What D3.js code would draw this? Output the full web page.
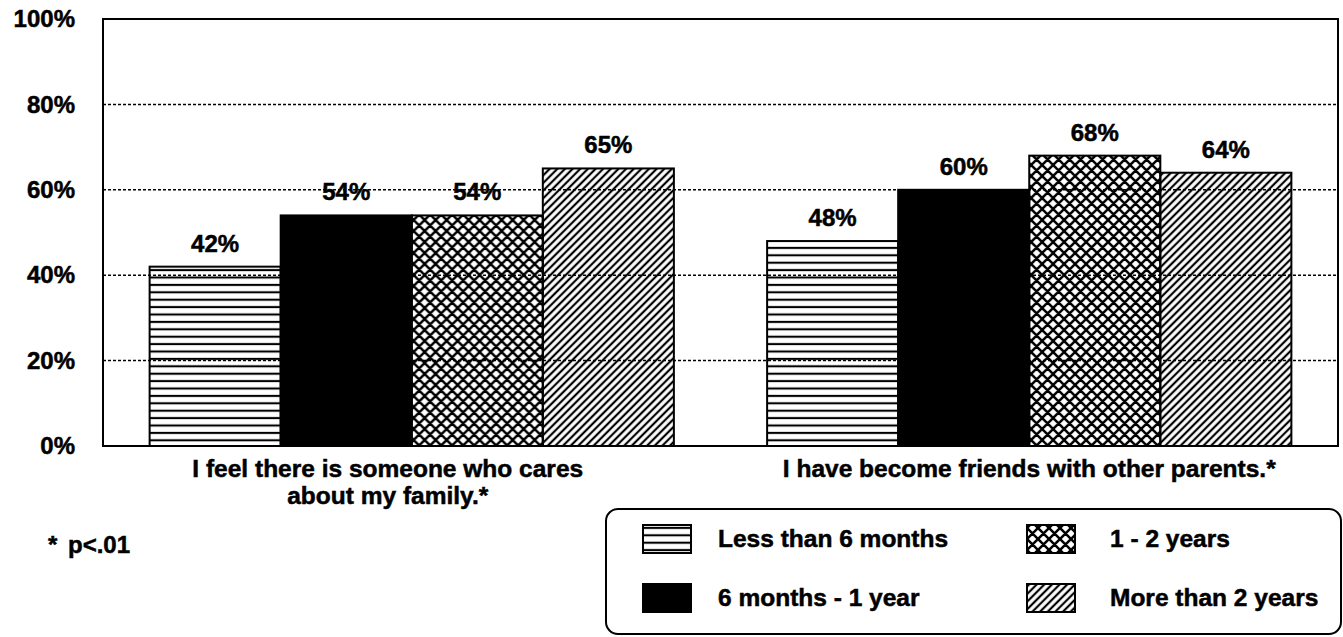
<!DOCTYPE html>
<html>
<head>
<meta charset="utf-8">
<script src="https://cdn.jsdelivr.net/npm/d3@7"></script>
<style>
  body { margin: 0; background: #fff; }
  svg { display: block; font-family: "Liberation Sans", Arial, sans-serif; font-weight: bold; }
  svg text { stroke: #000; stroke-width: 0.5px; }
</style>
</head>
<body>
<div id="chart"></div>
<script>
// Data
const categories = ["care", "friends"]
const categoryLines = [
    ["I feel there is someone who cares", "about my family.*"],
    ["I have become friends with other parents.*"]
]
const seriesNames = ["Less than 6 months", "6 months - 1 year", "1 - 2 years", "More than 2 years"]
const lessThan6Months = [42, 48]
const sixMonthsTo1Year = [54, 60]
const oneTo2Years = [54, 68]
const moreThan2Years = [65, 64]
const yTicks = [0, 20, 40, 60, 80, 100]
const footnote = "p<.01"

const seriesValues = [lessThan6Months, sixMonthsTo1Year, oneTo2Years, moreThan2Years]
const fills = ["url(#horiz)", "#000", "url(#cross)", "url(#diag)"]

const width = 1343, height = 637
const plotLeft = 103, plotRight = 1338, plotTop = 19, plotBottom = 446

const svg = d3.select('#chart').append('svg')
    .attr('width', width)
    .attr('height', height)

// Patterns
const defs = svg.append('defs')

defs.append('pattern')
    .attr('id', 'horiz')
    .attr('patternUnits', 'userSpaceOnUse')
    .attr('width', 8).attr('height', 7.4)
    .append('line')
    .attr('x1', 0).attr('x2', 8).attr('y1', 3.7).attr('y2', 3.7)
    .attr('stroke', '#000').attr('stroke-width', 2.1)

let cross = defs.append('pattern')
    .attr('id', 'cross')
    .attr('patternUnits', 'userSpaceOnUse')
    .attr('width', 11).attr('height', 11)
cross.append('path')
    .attr('d', 'M0,0L11,11M11,0L0,11M-1,1L1,-1M10,12L12,10M-1,10L1,12M10,-1L12,1')
    .attr('stroke', '#000').attr('stroke-width', 2.5)

defs.append('pattern')
    .attr('id', 'diag')
    .attr('patternUnits', 'userSpaceOnUse')
    .attr('width', 5.4).attr('height', 10)
    .attr('patternTransform', 'rotate(45)')
    .append('line')
    .attr('x1', 2.7).attr('x2', 2.7).attr('y1', 0).attr('y2', 10)
    .attr('stroke', '#000').attr('stroke-width', 2.2)

// Scales
const x0 = d3.scaleBand()
    .domain(categories)
    .range([plotLeft, plotRight])
    .paddingInner(0.151)
    .paddingOuter(0.0755)

const x1 = d3.scaleBand()
    .domain(d3.range(seriesNames.length))
    .range([0, x0.bandwidth()])

const y = d3.scaleLinear()
    .domain([0, 100])
    .range([plotBottom, plotTop])

// Gridlines (dotted)
svg.append('g')
    .selectAll('line')
    .data(yTicks.filter(d => d > 0 && d < 100))
    .join('line')
    .attr('x1', plotLeft).attr('x2', plotRight)
    .attr('y1', d => y(d)).attr('y2', d => y(d))
    .attr('stroke', '#000')
    .attr('stroke-width', 1.5)
    .attr('stroke-dasharray', '3,2')

// Y axis labels
const yAxis = d3.axisLeft(y)
    .tickValues(yTicks)
    .tickFormat(d => d + '%')
    .tickSize(0)
    .tickPadding(28)

svg.append('g')
    .attr('transform', `translate(${plotLeft},0)`)
    .call(yAxis)
    .call(g => g.select('.domain').remove())
    .selectAll('text')
    .attr('font-size', 24)
    .attr('font-family', '"Liberation Sans", Arial, sans-serif')
    .attr('font-weight', 'bold')
    .attr('fill', '#000')

// Bars
const rows = categories.map((c, i) => seriesValues.map((s, j) => ({cat: c, idx: j, value: s[i]})))

const groups = svg.append('g')
    .selectAll('g')
    .data(rows)
    .join('g')
    .attr('transform', (d, i) => `translate(${x0(categories[i])},0)`)

groups.selectAll('rect')
    .data(d => d)
    .join('rect')
    .attr('x', d => x1(d.idx))
    .attr('y', d => y(d.value))
    .attr('width', x1.bandwidth())
    .attr('height', d => y(0) - y(d.value))
    .attr('fill', d => fills[d.idx])
    .attr('stroke', '#000')
    .attr('stroke-width', 2)

groups.selectAll('text')
    .data(d => d)
    .join('text')
    .attr('x', d => x1(d.idx) + x1.bandwidth() / 2)
    .attr('y', d => y(d.value) - 15)
    .attr('text-anchor', 'middle')
    .attr('font-size', 24)
    .text(d => d.value + '%')

// Plot frame
svg.append('rect')
    .attr('x', plotLeft).attr('y', plotTop)
    .attr('width', plotRight - plotLeft).attr('height', plotBottom - plotTop)
    .attr('fill', 'none')
    .attr('stroke', '#000')
    .attr('stroke-width', 2)

// Category labels (the first one sits a little left of its group)
const labelShift = [-24, 0]
svg.append('g')
    .selectAll('text')
    .data(categories)
    .join('text')
    .attr('x', (d, i) => x0(d) + x0.bandwidth() / 2 + labelShift[i])
    .attr('y', 477)
    .attr('text-anchor', 'middle')
    .attr('font-size', 24.5)
    .selectAll('tspan')
    .data((d, i) => categoryLines[i])
    .join('tspan')
    .attr('x', function() { return d3.select(this.parentNode).attr('x') })
    .attr('dy', (d, i) => i === 0 ? 0 : 27)
    .text(d => d)

// Footnote
svg.append('text')
    .attr('x', 48).attr('y', 553)
    .attr('font-size', 24)
    .text('*')
svg.append('text')
    .attr('x', 68).attr('y', 553)
    .attr('font-size', 24)
    .text(footnote)

// Legend
const legend = svg.append('g')

legend.append('rect')
    .attr('x', 606).attr('y', 509)
    .attr('width', 735).attr('height', 125)
    .attr('rx', 12)
    .attr('fill', 'none')
    .attr('stroke', '#000')
    .attr('stroke-width', 2)

const legendX = d3.scaleOrdinal().domain([0, 1]).range([643, 1027])
const legendY = d3.scaleOrdinal().domain([0, 1]).range([539, 598])

const items = legend.selectAll('g.item')
    .data(seriesNames.map((name, i) => ({name, i, col: Math.floor(i / 2), row: i % 2})))
    .join('g')
    .attr('class', 'item')
    .attr('transform', d => `translate(${legendX(d.col)},${legendY(d.row)})`)

items.append('rect')
    .attr('x', 0).attr('y', -14)
    .attr('width', 48).attr('height', 28)
    .attr('fill', d => fills[d.i])
    .attr('stroke', '#000')
    .attr('stroke-width', 2)

items.append('text')
    .attr('x', d => d.col === 0 ? 75 : 83)
    .attr('y', 8)
    .attr('font-size', 24.5)
    .text(d => d.name)
</script>
</body>
</html>
